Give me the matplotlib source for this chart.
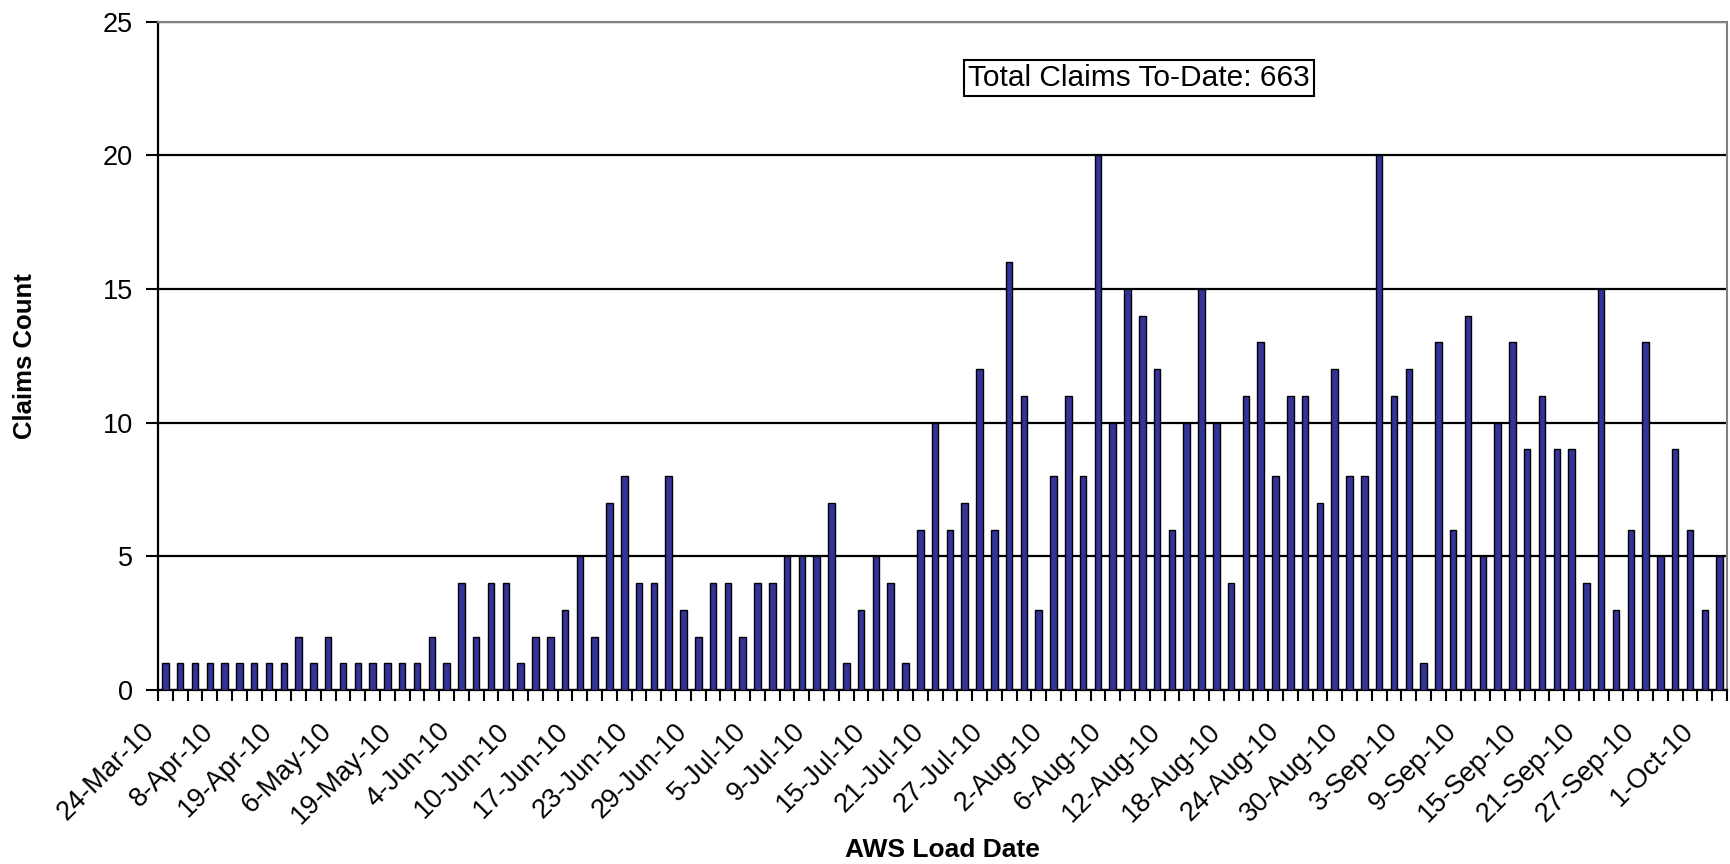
import numpy as np
import matplotlib.pyplot as plt
import matplotlib.transforms as mtransforms

# claims per AWS load date (one bar per load date)
claims = [1, 1, 1, 1, 1, 1, 1, 1, 1, 2, 1, 2, 1, 1, 1, 1, 1, 1, 2, 1,
          4, 2, 4, 4, 1, 2, 2, 3, 5, 2, 7, 8, 4, 4, 8, 3, 2, 4, 4, 2,
          4, 4, 5, 5, 5, 7, 1, 3, 5, 4, 1, 6, 10, 6, 7, 12, 6, 16, 11, 3,
          8, 11, 8, 20, 10, 15, 14, 12, 6, 10, 15, 10, 4, 11, 13, 8, 11, 11, 7, 12,
          8, 8, 20, 11, 12, 1, 13, 6, 14, 5, 10, 13, 9, 11, 9, 9, 4, 15, 3, 6,
          13, 5, 9, 6, 3, 5]

# every 4th load date is labelled
date_labels = ['24-Mar-10', '8-Apr-10', '19-Apr-10', '6-May-10', '19-May-10',
               '4-Jun-10', '10-Jun-10', '17-Jun-10', '23-Jun-10', '29-Jun-10',
               '5-Jul-10', '9-Jul-10', '15-Jul-10', '21-Jul-10', '27-Jul-10',
               '2-Aug-10', '6-Aug-10', '12-Aug-10', '18-Aug-10', '24-Aug-10',
               '30-Aug-10', '3-Sep-10', '9-Sep-10', '15-Sep-10', '21-Sep-10',
               '27-Sep-10', '1-Oct-10']
label_step = 4

yticks = [0, 5, 10, 15, 20, 25]
total_text = 'Total Claims To-Date: %d' % sum(claims)

plt.rcParams['font.family'] = ['Liberation Sans', 'DejaVu Sans']

fig = plt.figure(figsize=(17.3, 8.64), dpi=100)
ax = fig.add_axes([158/1730, 1 - 690/864, (1727 - 158)/1730, (690 - 21.7)/864])

x = np.arange(len(claims))
ax.bar(x, claims, width=0.44, color='#333399', edgecolor='black', linewidth=1.0, zorder=3)

ax.set_xlim(-0.5, len(claims) - 0.5)
ax.set_ylim(0, 25)
ax.set_yticks(yticks)
ax.yaxis.grid(True, color='black', linewidth=1.6, zorder=0)
ax.tick_params(axis='y', direction='out', length=9, width=1.5, pad=9, labelsize=19.5, colors='black')

# ticks between categories, labels on every 4th category
ax.set_xticks(np.arange(-0.5, len(claims), 1.0), minor=True)
ax.set_xticks(x[::label_step])
ax.set_xticklabels(date_labels, rotation=45, ha='right', va='center', rotation_mode='anchor', fontsize=19.5)
ax.tick_params(axis='x', which='major', length=0, pad=27)
ax.tick_params(axis='x', which='minor', direction='out', length=8, width=1.5)
offset = mtransforms.ScaledTranslation(-15/100, 0, fig.dpi_scale_trans)
for lab in ax.get_xticklabels():
    lab.set_transform(lab.get_transform() + offset)

for side in ['left', 'bottom']:
    ax.spines[side].set_linewidth(1.6)
    ax.spines[side].set_color('black')
for side in ['top', 'right']:
    ax.spines[side].set_linewidth(1.5)
    ax.spines[side].set_color('#808080')

fig.text(25/1730, 1 - 356/864, 'Claims Count', rotation=90, ha='center', va='center',
         fontsize=18.5, fontweight='bold')
fig.text(942/1730, 1 - 850/864, 'AWS Load Date', ha='center', va='center',
         fontsize=19, fontweight='bold')

fig.text(1139/1730, 1 - 78/864, total_text, ha='center', va='center', fontsize=21.5,
         bbox=dict(boxstyle='square,pad=0.15', facecolor='white', edgecolor='black', linewidth=1.5))

fig.savefig('out.png', dpi=100)
